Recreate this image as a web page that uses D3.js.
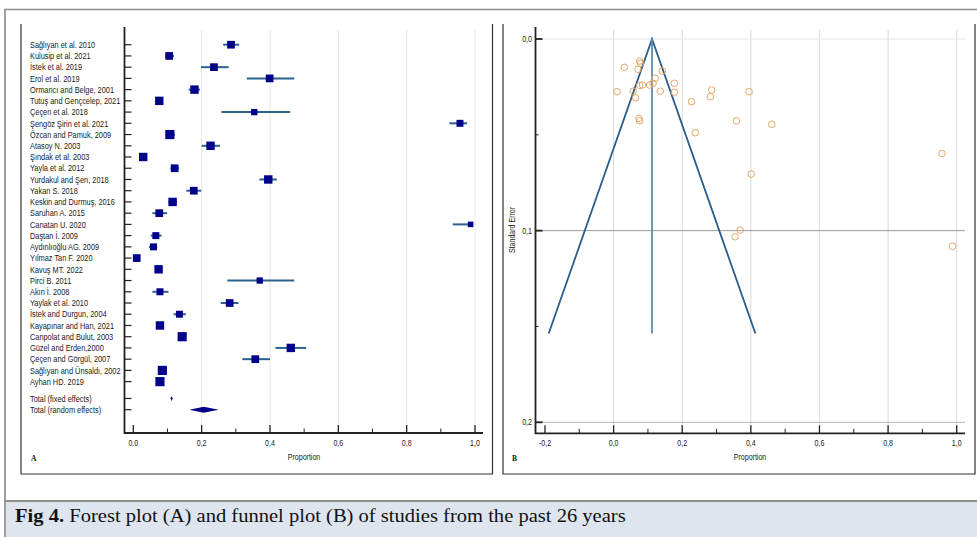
<!DOCTYPE html>
<html>
<head>
<meta charset="utf-8">
<script src="https://cdn.jsdelivr.net/npm/d3@7"></script>
<style>
  body { margin: 0; background: #fff; }
  text { font-family: "Liberation Sans", Arial, sans-serif; fill: #1a1a1a; }
  text.serif { font-family: "Liberation Serif", "Times New Roman", serif; fill: #111; }
</style>
</head>
<body>
<svg width="977" height="537"></svg>
<script>
// ---- forest plot data (A) ----
const studies = [
    "Sağlıyan et al. 2010", "Kulusip et al. 2021", "İstek et al. 2019", "Erol et al. 2019",
    "Ormancı and Belge, 2001", "Tutuş and Gençcelep, 2021", "Çeçen et al. 2018",
    "Şengöz Şirin et al. 2021", "Özcan and Pamuk, 2009", "Atasoy N. 2003", "Şındak et al. 2003",
    "Yayla et al. 2012", "Yurdakul and Şen, 2018", "Yakan S. 2018", "Keskin and Durmuş, 2016",
    "Saruhan A. 2015", "Canatan U. 2020", "Daştan İ. 2009", "Aydınlıoğlu AG. 2009",
    "Yılmaz Tan F. 2020", "Kavuş MT. 2022", "Pirci B. 2011", "Akın İ. 2008", "Yaylak et al. 2010",
    "İstek and Durgun, 2004", "Kayapınar and Han, 2021", "Canpolat and Bulut, 2003",
    "Güzel and Erden,2000", "Çeçen and Görgül, 2007", "Sağlıyan and Ünsaldı, 2002", "Ayhan HD. 2019"
];
const proportion = [0.286, 0.105, 0.236, 0.399, 0.179, 0.076, 0.354, 0.956, 0.107, 0.226, 0.029,
    0.121, 0.395, 0.177, 0.115, 0.076, 0.987, 0.066, 0.059, 0.010, 0.074, 0.370, 0.078, 0.282,
    0.135, 0.078, 0.143, 0.461, 0.357, 0.085, 0.078];
const ciLow = [0.263, 0.093, 0.198, 0.332, 0.162, 0.068, 0.258, 0.925, 0.095, 0.200, 0.020,
    0.109, 0.369, 0.155, 0.103, 0.056, 0.935, 0.051, 0.046, 0.004, 0.064, 0.275, 0.056, 0.256,
    0.118, 0.068, 0.133, 0.416, 0.319, 0.075, 0.068];
const ciHigh = [0.310, 0.119, 0.279, 0.471, 0.195, 0.087, 0.459, 0.977, 0.122, 0.254, 0.039,
    0.134, 0.420, 0.199, 0.128, 0.099, 0.995, 0.083, 0.070, 0.016, 0.084, 0.471, 0.103, 0.308,
    0.154, 0.088, 0.152, 0.506, 0.400, 0.097, 0.088];
// relative weights (%)
const weight = [2.7, 2.7, 2.7, 2.7, 3.2, 3.2, 1.8, 2.2, 3.8, 3.2, 3.2, 2.7, 3.2, 2.7, 3.2, 2.7,
    1.4, 2.2, 2.2, 2.7, 3.2, 1.8, 2.2, 2.7, 2.2, 3.2, 3.8, 3.2, 2.7, 3.8, 3.8];

const totalLabels = ["Total (fixed effects)", "Total (random effects)"];
const totalEst = [0.112, 0.206];
const totalLow = [0.109, 0.164];
const totalHigh = [0.115, 0.250];

const forestTicks = [0, 0.2, 0.4, 0.6, 0.8, 1.0];
const forestTickLabels = ["0.0", "0,2", "0,4", "0,6", "0,8", "1,0"];

// ---- funnel plot data (B) ----
const funnelP = [0.031, 0.076, 0.078, 0.071, 0.142, 0.121, 0.177, 0.084, 0.076, 0.105, 0.115,
    0.010, 0.057, 0.064, 0.136, 0.177, 0.286, 0.282, 0.227, 0.074, 0.076, 0.358, 0.238,
    0.395, 0.461, 0.957, 0.401, 0.369, 0.354, 0.988];
const funnelSE = [0.0148, 0.0115, 0.0127, 0.0158, 0.0167, 0.0205, 0.0231, 0.0240, 0.0242, 0.0240,
    0.0231, 0.0275, 0.0272, 0.0307, 0.0272, 0.0278, 0.0266, 0.0301, 0.0327, 0.0414, 0.0427,
    0.0427, 0.0489, 0.0275, 0.0445, 0.0597, 0.0705, 0.0997, 0.1032, 0.1081];
const pooled = 0.112;
const seMax = 0.1537;

const funnelXTicks = [-0.2, 0, 0.2, 0.4, 0.6, 0.8, 1.0];
const funnelXTickLabels = ["-0,2", "0,0", "0,2", "0,4", "0,6", "0,8", "1,0"];
const funnelYTicks = [0, 0.1, 0.2];
const funnelYTickLabels = ["0,0", "0,1", "0,2"];

const caption = "Forest plot (A) and funnel plot (B) of studies from the past 26 years";

const svg = d3.select("svg");
const squeeze = 0.82; // the figure text is horizontally narrow

function label(g, x, y, txt, size, anchor) {
    return g.append("text")
        .attr("transform", "translate(" + x + "," + y + ") scale(" + squeeze + ",1)")
        .attr("text-anchor", anchor || "start")
        .attr("font-size", size)
        .text(txt);
}

// outer frame + caption bar
svg.append("rect").attr("x", 5).attr("y", 501).attr("width", 972).attr("height", 36)
    .attr("fill", "#dfe5ef");
svg.append("line").attr("x1", 5).attr("x2", 977).attr("y1", 501).attr("y2", 501)
    .attr("stroke", "#6f6f6f").attr("stroke-width", 1.5);
svg.append("path").attr("d", "M5,537V9.5H977").attr("fill", "none")
    .attr("stroke", "#8a8a8a").attr("stroke-width", 1.6);

const cap = svg.append("text").attr("class", "serif").attr("font-size", 18.5);
cap.append("tspan").attr("font-weight", "bold").text("Fig 4.");
cap.append("tspan").text(" " + caption);
const capLen = cap.node().getComputedTextLength();
cap.attr("transform", "translate(15,522) scale(" + (611 / capLen) + ",1)");

// panel borders
[[21, 492.5], [503, 975]].forEach(function (p) {
    svg.append("path")
        .attr("d", "M" + p[0] + ",24V474H" + p[1] + "V24")
        .attr("fill", "none").attr("stroke", "#333").attr("stroke-width", 1.2);
});
svg.append("text").attr("class", "serif").attr("x", 31).attr("y", 461)
    .attr("font-size", 7.5).attr("font-weight", "bold").text("A");
svg.append("text").attr("class", "serif").attr("x", 512).attr("y", 461)
    .attr("font-size", 7.5).attr("font-weight", "bold").text("B");

// ================= A: forest plot =================
const fx = d3.scaleLinear().domain([0, 1]).range([133.3, 475]);
const fy = d3.scaleLinear().domain([0, 32.5]).range([44.7, 409.7]);
const size = d3.scaleSqrt().domain([0, 4]).range([0, 9.4]);
const rowIdx = studies.map(function (d, i) { return i; });
const totalIdx = [31.5, 32.5];
const axisY = 433, axisX = 124.5;

const A = svg.append("g");

A.selectAll("line.grid").data(forestTicks.slice(1)).enter().append("line")
    .attr("x1", fx).attr("x2", fx).attr("y1", 30).attr("y2", axisY)
    .attr("stroke", "#e6e6e6").attr("stroke-width", 1);

// CI lines
A.selectAll("line.ci").data(rowIdx).enter().append("line")
    .attr("x1", function (i) { return fx(ciLow[i]); })
    .attr("x2", function (i) { return fx(ciHigh[i]); })
    .attr("y1", fy).attr("y2", fy)
    .attr("stroke", "#2b6290").attr("stroke-width", 2);

// squares
A.selectAll("rect.est").data(rowIdx).enter().append("rect")
    .attr("x", function (i) { return fx(proportion[i]) - size(weight[i]) / 2; })
    .attr("y", function (i) { return fy(i) - size(weight[i]) / 2; })
    .attr("width", function (i) { return size(weight[i]); })
    .attr("height", function (i) { return size(weight[i]); })
    .attr("fill", "#00008a");

// pooled diamonds
A.selectAll("path.total").data([0, 1]).enter().append("path")
    .attr("d", function (k) {
        const y = fy(totalIdx[k]), h = k === 0 ? 2.5 : 3;
        return "M" + fx(totalLow[k]) + "," + y + "L" + fx(totalEst[k]) + "," + (y - h) +
            "L" + fx(totalHigh[k]) + "," + y + "L" + fx(totalEst[k]) + "," + (y + h) + "Z";
    })
    .attr("fill", "#00008a");

// labels
rowIdx.forEach(function (i) { label(A, 30, fy(i) + 3.2, studies[i], 9); });
totalLabels.forEach(function (t, k) { label(A, 30, fy(totalIdx[k]) + 3.2, t, 9); });

// axes
A.append("path").attr("d", "M" + axisX + ",27V" + axisY + "H483")
    .attr("fill", "none").attr("stroke", "#222").attr("stroke-width", 1.8);
A.selectAll("line.ytick").data(rowIdx.concat(totalIdx)).enter().append("line")
    .attr("x1", axisX).attr("x2", axisX + 7).attr("y1", fy).attr("y2", fy)
    .attr("stroke", "#222").attr("stroke-width", 1.2);
A.selectAll("line.xmaj").data(forestTicks).enter().append("line")
    .attr("x1", fx).attr("x2", fx).attr("y1", axisY).attr("y2", axisY - 8)
    .attr("stroke", "#222").attr("stroke-width", 1.3);
A.selectAll("line.xmin").data(d3.range(0.1, 1, 0.2)).enter().append("line")
    .attr("x1", fx).attr("x2", fx).attr("y1", axisY).attr("y2", axisY - 4.5)
    .attr("stroke", "#222").attr("stroke-width", 1);
forestTicks.forEach(function (t, i) { label(A, fx(t), 446, forestTickLabels[i], 8.6, "middle"); });
label(A, 304, 460, "Proportion", 8.6, "middle");

// ================= B: funnel plot =================
const px = d3.scaleLinear().domain([-0.2, 1]).range([545, 956.7]);
const py = d3.scaleLinear().domain([0, 0.2]).range([39, 422.3]);
const bAxisX = 535.5, bAxisY = 433.3;
const B = svg.append("g");

B.selectAll("line.vgrid").data(funnelXTicks.slice(1)).enter().append("line")
    .attr("x1", px).attr("x2", px).attr("y1", 30).attr("y2", bAxisY)
    .attr("stroke", "#dadada").attr("stroke-width", 1);
B.selectAll("line.hgrid").data(funnelYTicks).enter().append("line")
    .attr("x1", bAxisX).attr("x2", 965).attr("y1", py).attr("y2", py)
    .attr("stroke", function (d) { return d === 0 ? "#e6e6e6" : (d === 0.1 ? "#9a9a9a" : "#b5b5b5"); })
    .attr("stroke-width", 1);

// funnel
const z = 1.96;
B.append("path")
    .attr("d", "M" + px(pooled - z * seMax) + "," + py(seMax) + "L" + px(pooled) + "," + py(0) +
        "L" + px(pooled + z * seMax) + "," + py(seMax))
    .attr("fill", "none").attr("stroke", "#2c5d88").attr("stroke-width", 1.8);
B.append("line").attr("x1", px(pooled)).attr("x2", px(pooled)).attr("y1", py(0)).attr("y2", py(seMax))
    .attr("stroke", "#5b8db2").attr("stroke-width", 1.8);

B.selectAll("circle").data(funnelP).enter().append("circle")
    .attr("cx", function (d) { return px(d); })
    .attr("cy", function (d, i) { return py(funnelSE[i]); })
    .attr("r", 3.3)
    .attr("fill", "none").attr("stroke", "#e2a868").attr("stroke-width", 1);

// axes
B.append("path").attr("d", "M" + bAxisX + ",27V" + bAxisY + "H965")
    .attr("fill", "none").attr("stroke", "#222").attr("stroke-width", 1.8);
B.selectAll("line.xmaj").data(funnelXTicks).enter().append("line")
    .attr("x1", px).attr("x2", px).attr("y1", bAxisY).attr("y2", bAxisY - 8)
    .attr("stroke", "#222").attr("stroke-width", 1.3);
B.selectAll("line.xmin").data(d3.range(-0.1, 1, 0.2)).enter().append("line")
    .attr("x1", px).attr("x2", px).attr("y1", bAxisY).attr("y2", bAxisY - 4.5)
    .attr("stroke", "#222").attr("stroke-width", 1);
B.selectAll("line.ymaj").data(funnelYTicks).enter().append("line")
    .attr("x1", bAxisX).attr("x2", bAxisX + 7).attr("y1", py).attr("y2", py)
    .attr("stroke", "#222").attr("stroke-width", 1.8);
B.selectAll("line.ymin").data([0.05, 0.15]).enter().append("line")
    .attr("x1", bAxisX).attr("x2", bAxisX + 3).attr("y1", py).attr("y2", py)
    .attr("stroke", "#222").attr("stroke-width", 1);
funnelXTicks.forEach(function (t, i) { label(B, px(t), 446, funnelXTickLabels[i], 8.6, "middle"); });
funnelYTicks.forEach(function (t, i) { label(B, 532, py(t) + 3, funnelYTickLabels[i], 8.6, "end"); });
label(B, 750, 460, "Proportion", 8.6, "middle");
B.append("text")
    .attr("transform", "translate(514.5,230) rotate(-90) scale(" + squeeze + ",1)")
    .attr("text-anchor", "middle").attr("font-size", 8.6).text("Standard Error");
</script>
</body>
</html>
